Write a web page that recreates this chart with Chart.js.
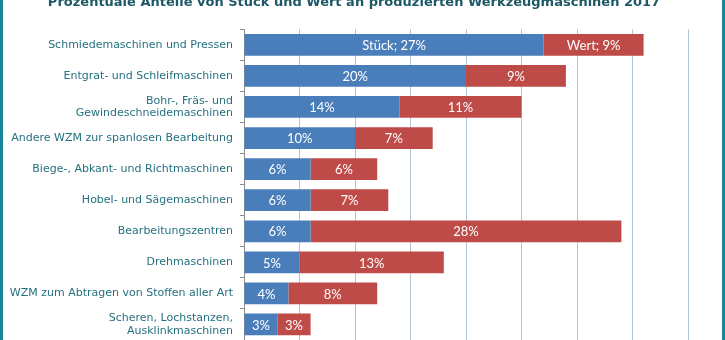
<!DOCTYPE html>
<html lang="de">
<head>
    <meta charset="UTF-8">
    <title>Werkzeugmaschinen 2017</title>
    <script src="https://cdn.jsdelivr.net/npm/chart.js"></script>
    <style>
        html, body { margin: 0; padding: 0; background: #fff; }
        #frame {
            position: relative;
            width: 719px;
            height: 340px;
            overflow: hidden;
            border-left: 3px solid #18849a;
            border-right: 3px solid #18849a;
        }
        #box {
            position: absolute;
            left: 0;
            top: -10px;
            width: 719px;
            height: 372px;
        }
    </style>
</head>
<body>
    <div id="frame">
        <div id="box"><canvas id="myChart"></canvas></div>
    </div>

    <script>
        const titleText = 'Prozentuale Anteile von Stück und Wert an produzierten Werkzeugmaschinen 2017';

        const categories = [
            'Schmiedemaschinen und Pressen',
            'Entgrat- und Schleifmaschinen',
            ['Bohr-, Fräs- und', 'Gewindeschneidemaschinen'],
            'Andere WZM zur spanlosen Bearbeitung',
            'Biege-, Abkant- und Richtmaschinen',
            'Hobel- und Sägemaschinen',
            'Bearbeitungszentren',
            'Drehmaschinen',
            'WZM zum Abtragen von Stoffen aller Art',
            ['Scheren, Lochstanzen,', 'Ausklinkmaschinen']
        ];

        const stueck = [27, 20, 14, 10, 6, 6, 6, 5, 4, 3];
        const wert = [9, 9, 11, 7, 6, 7, 28, 13, 8, 3];

        // heading sits over the whole sheet, not just the plot, so it is drawn by hand
        const heading = {
            id: 'heading',
            afterDraw(chart) {
                const ctx = chart.ctx;
                ctx.save();
                ctx.font = 'bold 13px "DejaVu Sans"';
                ctx.fillStyle = '#1d5866';
                ctx.textAlign = 'center';
                ctx.textBaseline = 'middle';
                ctx.fillText(titleText, 351, 12.8);
                ctx.restore();
            }
        };

        // white value labels in the middle of every segment, series name on the first row
        const barLabels = {
            id: 'barLabels',
            afterDatasetsDraw(chart) {
                const ctx = chart.ctx;
                ctx.save();
                ctx.font = '13px Lato';
                ctx.fillStyle = '#ffffff';
                ctx.textAlign = 'center';
                ctx.textBaseline = 'middle';
                chart.data.datasets.forEach((ds, i) => {
                    chart.getDatasetMeta(i).data.forEach((bar, j) => {
                        const p = bar.getProps(['x', 'y', 'base'], true);
                        const text = (j === 0 ? ds.label + '; ' : '') + ds.data[j] + '%';
                        ctx.fillText(text, (p.x + p.base) / 2, p.y + 1);
                    });
                });
                ctx.restore();
            }
        };

        const ctx = document.getElementById('myChart').getContext('2d');
        const chart = new Chart(ctx, {
            type: 'bar',
            data: {
                labels: categories,
                datasets: [{
                    label: 'Stück',
                    data: stueck,
                    backgroundColor: '#4a7ebb'
                }, {
                    label: 'Wert',
                    data: wert,
                    backgroundColor: '#be4b48'
                }]
            },
            options: {
                indexAxis: 'y',
                responsive: true,
                maintainAspectRatio: false,
                animation: false,
                datasets: {
                    bar: { categoryPercentage: 1, barPercentage: 0.7 }
                },
                layout: { padding: { left: 0, right: 34, top: 39.3, bottom: 0 } },
                plugins: {
                    legend: { display: false },
                    tooltip: { enabled: false },
                    title: { display: false }
                },
                scales: {
                    x: {
                        stacked: true,
                        min: 0,
                        max: 40,
                        ticks: {
                            stepSize: 5,
                            color: '#23707f',
                            font: { family: 'DejaVu Sans', size: 11 },
                            callback: v => v + '%'
                        },
                        grid: { color: '#b4c3d2', drawTicks: true, tickLength: 4 },
                        border: { color: '#8c8c8c' },
                        afterFit: s => { s.height = 22; }
                    },
                    y: {
                        stacked: true,
                        ticks: {
                            color: '#23707f',
                            padding: 7,
                            font: { family: 'DejaVu Sans', size: 11, lineHeight: 1.15 }
                        },
                        grid: {
                            drawOnChartArea: false,
                            drawTicks: true,
                            tickLength: 4,
                            color: '#8c8c8c'
                        },
                        border: { color: '#8c8c8c' },
                        afterFit: s => { s.width = 241; }
                    }
                }
            },
            plugins: [barLabels, heading]
        });
    </script>
</body>
</html>
